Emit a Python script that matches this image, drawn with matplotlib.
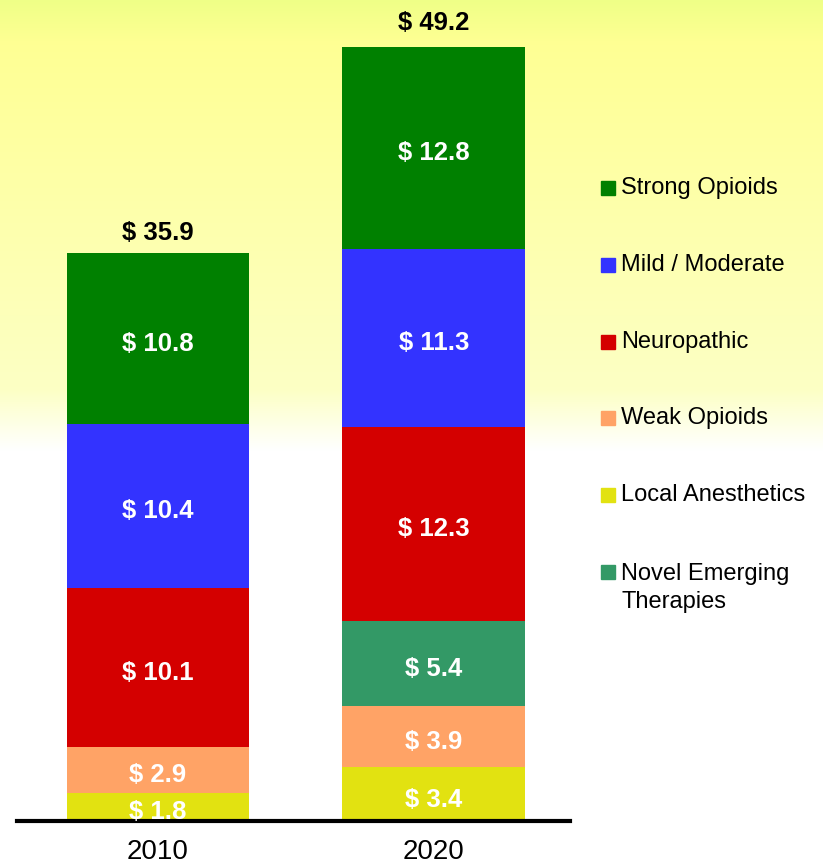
import matplotlib
matplotlib.use("Agg")
import matplotlib.pyplot as plt
from matplotlib.patches import Rectangle
import numpy as np

plt.rcParams['font.family'] = ['Liberation Sans', 'DejaVu Sans']

years = ['2010', '2020']
totals = ['$ 35.9', '$ 49.2']

# segments from bottom to top (0 = not present that year)
segments = ['Local Anesthetics', 'Weak Opioids', 'Novel Emerging\nTherapies',
            'Neuropathic', 'Mild / Moderate', 'Strong Opioids']
values = {
    'Local Anesthetics':          [1.8, 3.4],
    'Weak Opioids':               [2.9, 3.9],
    'Novel Emerging\nTherapies':  [0.0, 5.4],
    'Neuropathic':                [10.1, 12.3],
    'Mild / Moderate':            [10.4, 11.3],
    'Strong Opioids':             [10.8, 12.8],
}
colors = {
    'Local Anesthetics': '#E2E211',
    'Weak Opioids': '#FFA366',
    'Novel Emerging\nTherapies': '#339966',
    'Neuropathic': '#D40000',
    'Mild / Moderate': '#3333FF',
    'Strong Opioids': '#008000',
}
legend_order = ['Strong Opioids', 'Mild / Moderate', 'Neuropathic',
                'Weak Opioids', 'Local Anesthetics', 'Novel Emerging\nTherapies']

W, H = 823, 865
fig = plt.figure(figsize=(W / 100, H / 100), dpi=100)

# yellow-to-white background
bg = fig.add_axes([0, 0, 1, 1])
ys = np.linspace(0, 1, 400)
r = np.interp(ys, [0, 0.05, 0.45, 0.52, 1], [0.94, 1.0, 0.99, 1.0, 1.0])
g = np.interp(ys, [0, 0.05, 0.45, 0.52, 1], [1.0, 1.0, 1.0, 1.0, 1.0])
b = np.interp(ys, [0, 0.05, 0.45, 0.52, 1], [0.53, 0.58, 0.77, 1.0, 1.0])
grad = np.dstack([r, g, b]).reshape(-1, 1, 3)
bg.imshow(grad, aspect='auto', extent=[0, 1, 0, 1], origin='upper')
bg.set_axis_off()

# bar axes
px_per_unit = 15.77
base_px = 821
ax_left, ax_right = 17, 570
ymax = 52
ax = fig.add_axes([ax_left / W, (H - base_px) / H, (ax_right - ax_left) / W,
                   ymax * px_per_unit / H])
ax.patch.set_alpha(0)

x = np.arange(len(years))
width = 0.663
bottom = np.zeros(len(years))
for seg in segments:
    vals = np.array(values[seg])
    ax.bar(x, vals, width, bottom=bottom, color=colors[seg], linewidth=0)
    for i, v in enumerate(vals):
        if v > 0:
            ax.text(x[i], bottom[i] + v / 2 - 0.2, f'$ {v}', ha='center',
                    va='center_baseline', color='white', fontsize=18.5,
                    fontweight='bold')
    bottom += vals

for i, t in enumerate(totals):
    ax.text(x[i], float(t.split()[1]) + 1.55, t, ha='center', va='center_baseline',
            color='black', fontsize=18.5, fontweight='bold')

ax.set_xlim(-0.511, 1.493)
ax.set_ylim(0, ymax)
for s in ['top', 'right', 'left']:
    ax.spines[s].set_visible(False)
ax.spines['bottom'].set_linewidth(3)
ax.set_yticks([])
ax.set_xticks(x)
ax.set_xticklabels(years, fontsize=20)
ax.tick_params(axis='x', length=0, pad=13)

# legend
for k, seg in enumerate(legend_order):
    yc = 188 + k * 76.8
    fig.patches.append(Rectangle((601 / W, 1 - (yc + 7) / H), 14 / W, 14 / H,
                                 transform=fig.transFigure, color=colors[seg]))
    if '\n' in seg:
        fig.text(621 / W, 1 - (yc - 9) / H, seg, ha='left', va='top',
                 fontsize=17, color='black', linespacing=1.38)
    else:
        fig.text(621 / W, 1 - yc / H, seg, ha='left', va='center',
                 fontsize=17, color='black')

fig.savefig('out.png', dpi=100)
